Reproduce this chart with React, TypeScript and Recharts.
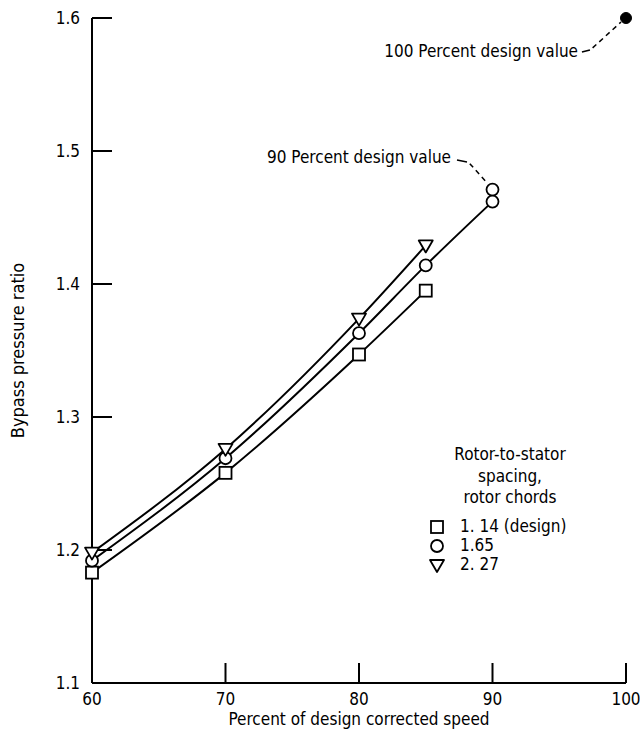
import React from "react";
import {
  ComposedChart,
  Line,
  Scatter,
  XAxis,
  YAxis,
  ReferenceLine,
  Legend,
} from "recharts";

const speedTicks = [60, 70, 80, 90, 100];
const ratioTicks = [1.1, 1.2, 1.3, 1.4, 1.5, 1.6];

// Percent of design corrected speed
const speeds114 = [60, 70, 80, 85];
const speeds165 = [60, 70, 80, 85, 90];
const speeds227 = [60, 70, 80, 85];

// Bypass pressure ratio per rotor-to-stator spacing
const ratio114 = [1.183, 1.258, 1.347, 1.395];
const ratio165 = [1.192, 1.269, 1.363, 1.414, 1.462];
const ratio227 = [1.198, 1.276, 1.374, 1.429];

const spacingLabels = ["1. 14 (design)", "1.65", "2. 27"];

const designSpeeds = [90, 100];
const designRatios = [1.471, 1.6];
const designLabels = ["90 Percent design value", "100 Percent design value"];

const FONT = "'Liberation Sans Narrow', 'DejaVu Sans Condensed', 'Roboto Condensed', Roboto, sans-serif";
const FS = 17;

const toRows = (xs: number[], ys: number[]) =>
  xs.map((speed, i) => ({ speed, ratio: ys[i] }));

const rows114 = toRows(speeds114, ratio114);
const rows165 = toRows(speeds165, ratio165);
const rows227 = toRows(speeds227, ratio227);
const design90 = [{ speed: designSpeeds[0], ratio: designRatios[0] }];
const design100 = [{ speed: designSpeeds[1], ratio: designRatios[1] }];

type MarkProps = { cx?: number; cy?: number };

function SquareMark({ cx, cy }: MarkProps) {
  if (cx == null || cy == null) return null;
  return (
    <rect x={cx - 6} y={cy - 6} width={12} height={12} fill="#fff" stroke="#000" strokeWidth={1.8} />
  );
}

function CircleMark({ cx, cy }: MarkProps) {
  if (cx == null || cy == null) return null;
  return <circle cx={cx} cy={cy} r={6} fill="#fff" stroke="#000" strokeWidth={1.8} />;
}

function FilledMark({ cx, cy }: MarkProps) {
  if (cx == null || cy == null) return null;
  return <circle cx={cx} cy={cy} r={5.5} fill="#000" stroke="#000" strokeWidth={1} />;
}

function TriangleMark({ cx, cy }: MarkProps) {
  if (cx == null || cy == null) return null;
  return (
    <polygon
      points={`${cx - 7},${cy - 5} ${cx + 7},${cy - 5} ${cx},${cy + 7}`}
      fill="#fff"
      stroke="#000"
      strokeWidth={1.8}
      strokeLinejoin="round"
    />
  );
}

const markers = [SquareMark, CircleMark, TriangleMark];

function SpacingLegend() {
  return (
    <svg width={200} height={140} style={{ overflow: "visible" }}>
      <g fontFamily={FONT} fontSize={FS} fill="#000">
        <text x={90} y={15} textAnchor="middle" dominantBaseline="middle">Rotor-to-stator</text>
        <text x={90} y={37} textAnchor="middle" dominantBaseline="middle">spacing,</text>
        <text x={90} y={58} textAnchor="middle" dominantBaseline="middle">rotor chords</text>
        {spacingLabels.map((label, i) => {
          const Mark = markers[i];
          const y = 87 + i * 19;
          return (
            <g key={label}>
              <Mark cx={17} cy={y} />
              <text x={40} y={y} dominantBaseline="middle">{label}</text>
            </g>
          );
        })}
      </g>
    </svg>
  );
}

export default function App() {
  return (
    <div style={{ position: "absolute", left: 0, top: 0, background: "#fff" }}>
      <ComposedChart
        width={640}
        height={734}
        margin={{ top: 18, right: 14, left: 32, bottom: 9 }}
        style={{ fontFamily: FONT }}
      >
        <XAxis
          type="number"
          dataKey="speed"
          domain={[60, 100]}
          ticks={speedTicks}
          height={42}
          stroke="#000"
          strokeWidth={2}
          tickSize={-20}
          tickMargin={30}
          tick={{ fill: "#000", fontSize: FS }}
          label={{
            value: "Percent of design corrected speed",
            position: "insideBottom",
            offset: 0,
            fill: "#000",
            fontSize: FS,
          }}
        />
        <YAxis
          type="number"
          dataKey="ratio"
          domain={[1.1, 1.6]}
          ticks={ratioTicks}
          width={60}
          stroke="#000"
          strokeWidth={2}
          tickSize={-20}
          tickMargin={32}
          tickFormatter={(v: number) => v.toFixed(1)}
          tick={{ fill: "#000", fontSize: FS }}
          label={{
            value: "Bypass pressure ratio",
            angle: -90,
            position: "insideLeft",
            offset: -14,
            fill: "#000",
            fontSize: 18,
            style: { textAnchor: "middle" },
          }}
        />

        {/* leader from the labels to the design points */}
        <ReferenceLine
          segment={[{ x: 87.34, y: 1.4932 }, { x: 88.09, y: 1.4917 }]}
          stroke="#000"
          strokeWidth={1.5}
          ifOverflow="visible"
        />
        <ReferenceLine
          segment={[{ x: 88.3, y: 1.4905 }, { x: 89.6, y: 1.4759 }]}
          stroke="#000"
          strokeWidth={1.5}
          strokeDasharray="5 4"
          ifOverflow="visible"
        />
        <ReferenceLine
          segment={[{ x: 96.7, y: 1.5744 }, { x: 97.3, y: 1.5759 }]}
          stroke="#000"
          strokeWidth={1.5}
          ifOverflow="visible"
        />
        <ReferenceLine
          segment={[{ x: 97.5, y: 1.5775 }, { x: 99.63, y: 1.597 }]}
          stroke="#000"
          strokeWidth={1.5}
          strokeDasharray="5 4"
          ifOverflow="visible"
        />

        <Line
          data={rows114}
          dataKey="ratio"
          type="monotone"
          stroke="#000"
          strokeWidth={2}
          isAnimationActive={false}
          dot={(p: any) => <SquareMark key={`sq-${p.index}`} cx={p.cx} cy={p.cy} />}
        />
        <Line
          data={rows165}
          dataKey="ratio"
          type="monotone"
          stroke="#000"
          strokeWidth={2}
          isAnimationActive={false}
          dot={(p: any) => <CircleMark key={`ci-${p.index}`} cx={p.cx} cy={p.cy} />}
        />
        <Line
          data={rows227}
          dataKey="ratio"
          type="monotone"
          stroke="#000"
          strokeWidth={2}
          isAnimationActive={false}
          dot={(p: any) => <TriangleMark key={`tr-${p.index}`} cx={p.cx} cy={p.cy} />}
        />
        <Scatter
          data={design90}
          dataKey="ratio"
          isAnimationActive={false}
          shape={(p: any) => <CircleMark cx={p.cx} cy={p.cy} />}
        />
        <Scatter
          data={design100}
          dataKey="ratio"
          isAnimationActive={false}
          shape={(p: any) => <FilledMark cx={p.cx} cy={p.cy} />}
        />

        <text x={451} y={158} textAnchor="end" dominantBaseline="middle" fontSize={FS} fontFamily={FONT} fill="#000">
          {designLabels[0]}
        </text>
        <text x={578} y={52} textAnchor="end" dominantBaseline="middle" fontSize={FS} fontFamily={FONT} fill="#000">
          {designLabels[1]}
        </text>

        <Legend
          layout="horizontal"
          verticalAlign="middle"
          align="center"
          content={() => <SpacingLegend />}
          wrapperStyle={{ left: 420, top: 440, width: 200, height: 140 }}
        />
      </ComposedChart>
    </div>
  );
}
